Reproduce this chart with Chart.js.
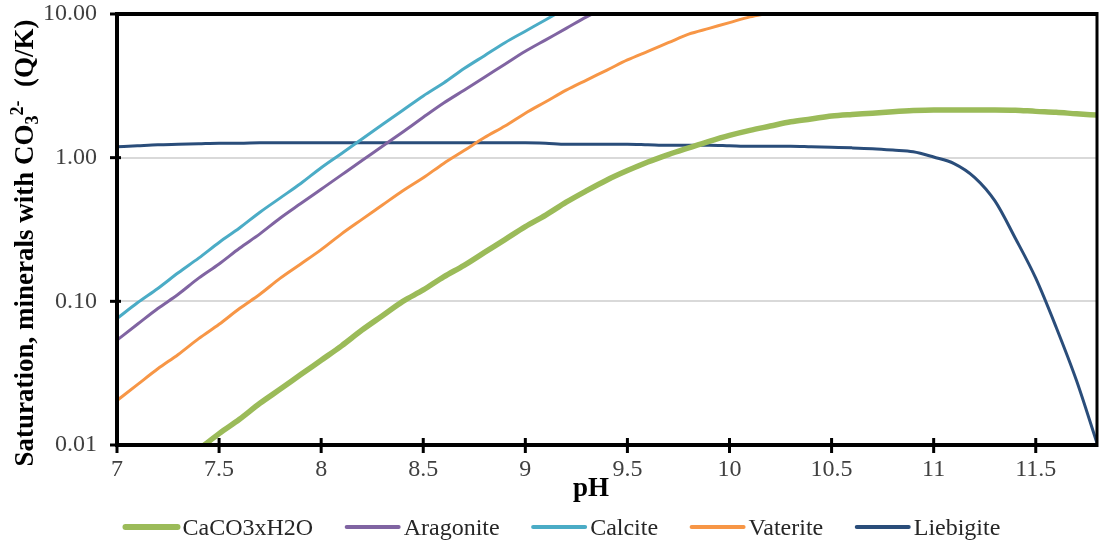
<!DOCTYPE html>
<html>
<head>
<meta charset="utf-8">
<title>Saturation of carbonate minerals vs pH</title>
<script src="https://cdn.jsdelivr.net/npm/chart.js@4/dist/chart.umd.min.js"></script>
<style>
  html, body { margin: 0; padding: 0; background: #ffffff; }
  #wrap { width: 1099px; height: 544px; }
</style>
</head>
<body>
<div id="wrap"><canvas id="chart" width="1099" height="544"></canvas></div>
<script>
// pH grid (x values)
const pH = [7.0, 7.1, 7.2, 7.3, 7.4, 7.5, 7.6, 7.7, 7.8, 7.9,
            8.0, 8.1, 8.2, 8.3, 8.4, 8.5, 8.6, 8.7, 8.8, 8.9,
            9.0, 9.1, 9.2, 9.3, 9.4, 9.5, 9.6, 9.7, 9.8, 9.9,
            10.0, 10.1, 10.2, 10.3, 10.4, 10.5, 10.6, 10.7, 10.8, 10.9,
            11.0, 11.1, 11.2, 11.3, 11.4, 11.5, 11.6, 11.7, 11.8];

// Saturation index Q/K for each mineral (null = not computed / off scale)
const caco3xH2O = [null, null, null, null, 0.0093, 0.0120, 0.0151, 0.0195, 0.0245, 0.0309,
                   0.0389, 0.0490, 0.0631, 0.0794, 0.100, 0.120, 0.148, 0.178, 0.219, 0.269,
                   0.331, 0.398, 0.490, 0.589, 0.700, 0.813, 0.933, 1.05, 1.17, 1.30,
                   1.43, 1.55, 1.66, 1.78, 1.86, 1.95, 2.00, 2.04, 2.09, 2.13,
                   2.15, 2.15, 2.15, 2.15, 2.14, 2.10, 2.07, 2.02, 1.98];

const aragonite = [0.0537, 0.0692, 0.0891, 0.112, 0.145, 0.182, 0.234, 0.295, 0.380, 0.479,
                   0.603, 0.759, 0.955, 1.20, 1.51, 1.91, 2.40, 2.95, 3.63, 4.47,
                   5.50, 6.61, 7.94, 9.55, 11.2, 13.2, null, null, null, null,
                   null, null, null, null, null, null, null, null, null, null,
                   null, null, null, null, null, null, null, null, null];

const calcite = [0.0759, 0.0977, 0.123, 0.158, 0.200, 0.257, 0.324, 0.417, 0.525, 0.661,
                 0.851, 1.07, 1.35, 1.70, 2.14, 2.69, 3.31, 4.17, 5.13, 6.31,
                 7.59, 9.12, 11.0, 13.2, null, null, null, null, null, null,
                 null, null, null, null, null, null, null, null, null, null,
                 null, null, null, null, null, null, null, null, null];

const vaterite = [0.0204, 0.0263, 0.0339, 0.0427, 0.0550, 0.0692, 0.0891, 0.112, 0.145, 0.182,
                  0.229, 0.295, 0.372, 0.468, 0.589, 0.724, 0.912, 1.12, 1.38, 1.66,
                  2.04, 2.45, 2.95, 3.47, 4.07, 4.79, 5.50, 6.31, 7.24, 7.94,
                  8.71, 9.55, 10.2, 11.0, null, null, null, null, null, null,
                  null, null, null, null, null, null, null, null, null];

const liebigite = [1.19, 1.21, 1.23, 1.24, 1.25, 1.26, 1.26, 1.27, 1.27, 1.27,
                   1.27, 1.27, 1.27, 1.27, 1.27, 1.27, 1.27, 1.27, 1.27, 1.27,
                   1.27, 1.26, 1.24, 1.24, 1.24, 1.24, 1.23, 1.22, 1.22, 1.22,
                   1.21, 1.20, 1.20, 1.20, 1.19, 1.18, 1.17, 1.155, 1.13, 1.10,
                   1.01, 0.91, 0.73, 0.50, 0.275, 0.145, 0.066, 0.028, 0.0103];

// Axis ticks
const yTickValues = [0.01, 0.1, 1, 10];
const xTickValues = [7, 7.5, 8, 8.5, 9, 9.5, 10, 10.5, 11, 11.5];

const seriesNames  = ['CaCO3xH2O', 'Aragonite', 'Calcite', 'Vaterite', 'Liebigite'];
const seriesValues = [caco3xH2O, aragonite, calcite, vaterite, liebigite];
const seriesColors = ['#9BBB59', '#8064A2', '#4BACC6', '#F79646', '#2A4D7A'];
const seriesWidths = [5.5, 3, 3, 3, 3];

const SERIF = "'Liberation Serif', 'Times New Roman', serif";

const datasets = seriesNames.map((name, k) => ({
  label: name,
  data: pH.map((x, i) => ({ x: x, y: seriesValues[k][i] })),
  borderColor: seriesColors[k],
  backgroundColor: seriesColors[k],
  borderWidth: seriesWidths[k],
  pointRadius: 0,
  pointHoverRadius: 0,
  fill: false,
  spanGaps: false,
  cubicInterpolationMode: 'monotone',
  clip: 0,
  legendLineWidth: k === 0 ? 6 : 4
}));

// Frame, cross tick marks, axis titles and legend
const decorations = {
  id: 'decorations',
  afterDatasetsDraw(chart) {
    const { ctx, chartArea: a, scales } = chart;
    const xs = scales.x, ys = scales.y;
    ctx.save();
    ctx.strokeStyle = '#000000';
    ctx.lineCap = 'butt';
    const seg = (x1, y1, x2, y2, w) => {
      ctx.lineWidth = w;
      ctx.beginPath(); ctx.moveTo(x1, y1); ctx.lineTo(x2, y2); ctx.stroke();
    };
    // plot frame
    seg(a.left - 2, a.top, a.right + 1, a.top, 4);
    seg(a.left, a.top - 2, a.left, a.bottom + 2, 4);
    seg(a.left - 2, a.bottom, a.right + 1, a.bottom, 4);
    seg(a.right, a.top - 2, a.right, a.bottom + 2, 3);
    // cross ticks
    ys.ticks.forEach(t => {
      const py = ys.getPixelForValue(t.value);
      seg(a.left - 7, py, a.left + 4, py, 3);
    });
    xs.ticks.forEach(t => {
      const px = xs.getPixelForValue(t.value);
      seg(px, a.bottom - 7, px, a.bottom + 8, 3);
    });
    ctx.restore();
  },
  afterDraw(chart) {
    const { ctx } = chart;
    ctx.save();
    ctx.fillStyle = '#000000';

    // x-axis title
    ctx.font = 'bold 27px ' + SERIF;
    ctx.textAlign = 'center';
    ctx.textBaseline = 'alphabetic';
    ctx.fillText('pH', 591, 496);

    // y-axis title with chemical sub/superscripts
    const parts = [
      { t: 'Saturation, minerals with CO', f: 'bold 27px ', dy: 0 },
      { t: '3', f: 'bold 18px ', dy: 5 },
      { t: '2-', f: 'bold 18px ', dy: -10 },
      { t: '  (Q/K)', f: 'bold 27px ', dy: 0 }
    ];
    let total = 0;
    parts.forEach(p => { ctx.font = p.f + SERIF; p.w = ctx.measureText(p.t).width; total += p.w; });
    ctx.translate(33, 243 + total / 2);
    ctx.rotate(-Math.PI / 2);
    ctx.textAlign = 'left';
    let cx = 0;
    parts.forEach(p => {
      ctx.font = p.f + SERIF;
      ctx.fillText(p.t, cx, p.dy);
      cx += p.w;
    });
    ctx.setTransform(1, 0, 0, 1, 0, 0);

    // legend
    ctx.font = '24px ' + SERIF;
    ctx.textAlign = 'left';
    ctx.textBaseline = 'alphabetic';
    let lx = 123.5;
    const ly = 527;
    chart.data.datasets.forEach(ds => {
      ctx.strokeStyle = ds.borderColor;
      ctx.lineWidth = ds.legendLineWidth;
      ctx.lineCap = 'round';
      ctx.beginPath(); ctx.moveTo(lx + 2, ly); ctx.lineTo(lx + 54, ly); ctx.stroke();
      lx += 59;
      ctx.fillStyle = '#262626';
      ctx.fillText(ds.label, lx, 535);
      lx += ctx.measureText(ds.label).width + 31.5;
    });
    ctx.restore();
  }
};

new Chart(document.getElementById('chart'), {
  type: 'line',
  data: { datasets: datasets },
  plugins: [decorations],
  options: {
    responsive: false,
    animation: false,
    devicePixelRatio: 1,
    layout: { padding: { top: 14, right: 2, left: 0, bottom: 0 } },
    plugins: {
      legend: { display: false },
      tooltip: { enabled: false },
      title: { display: false }
    },
    scales: {
      x: {
        type: 'linear',
        min: 7,
        max: 11.8,
        grid: { display: false, drawTicks: false },
        border: { display: false },
        ticks: {
          autoSkip: false,
          maxRotation: 0,
          padding: 10,
          color: '#404040',
          font: { family: SERIF, size: 24 },
          callback: v => String(Number(Number(v).toFixed(1)))
        },
        afterBuildTicks: s => { s.ticks = xTickValues.map(v => ({ value: v })); },
        afterFit: s => {
          s.height = 99;
          s.paddingLeft = 0; s.paddingRight = 0;
        }
      },
      y: {
        type: 'logarithmic',
        min: 0.01,
        max: 10,
        grid: { color: '#D9D9D9', lineWidth: 2, drawTicks: false },
        border: { display: false },
        ticks: {
          padding: 20,
          color: '#404040',
          font: { family: SERIF, size: 24 },
          callback: v => Number(v).toFixed(2)
        },
        afterBuildTicks: s => { s.ticks = yTickValues.map(v => ({ value: v })); },
        afterFit: s => {
          s.width = 117;
          s.paddingTop = 0; s.paddingBottom = 0;
        }
      }
    }
  }
});
</script>
</body>
</html>
